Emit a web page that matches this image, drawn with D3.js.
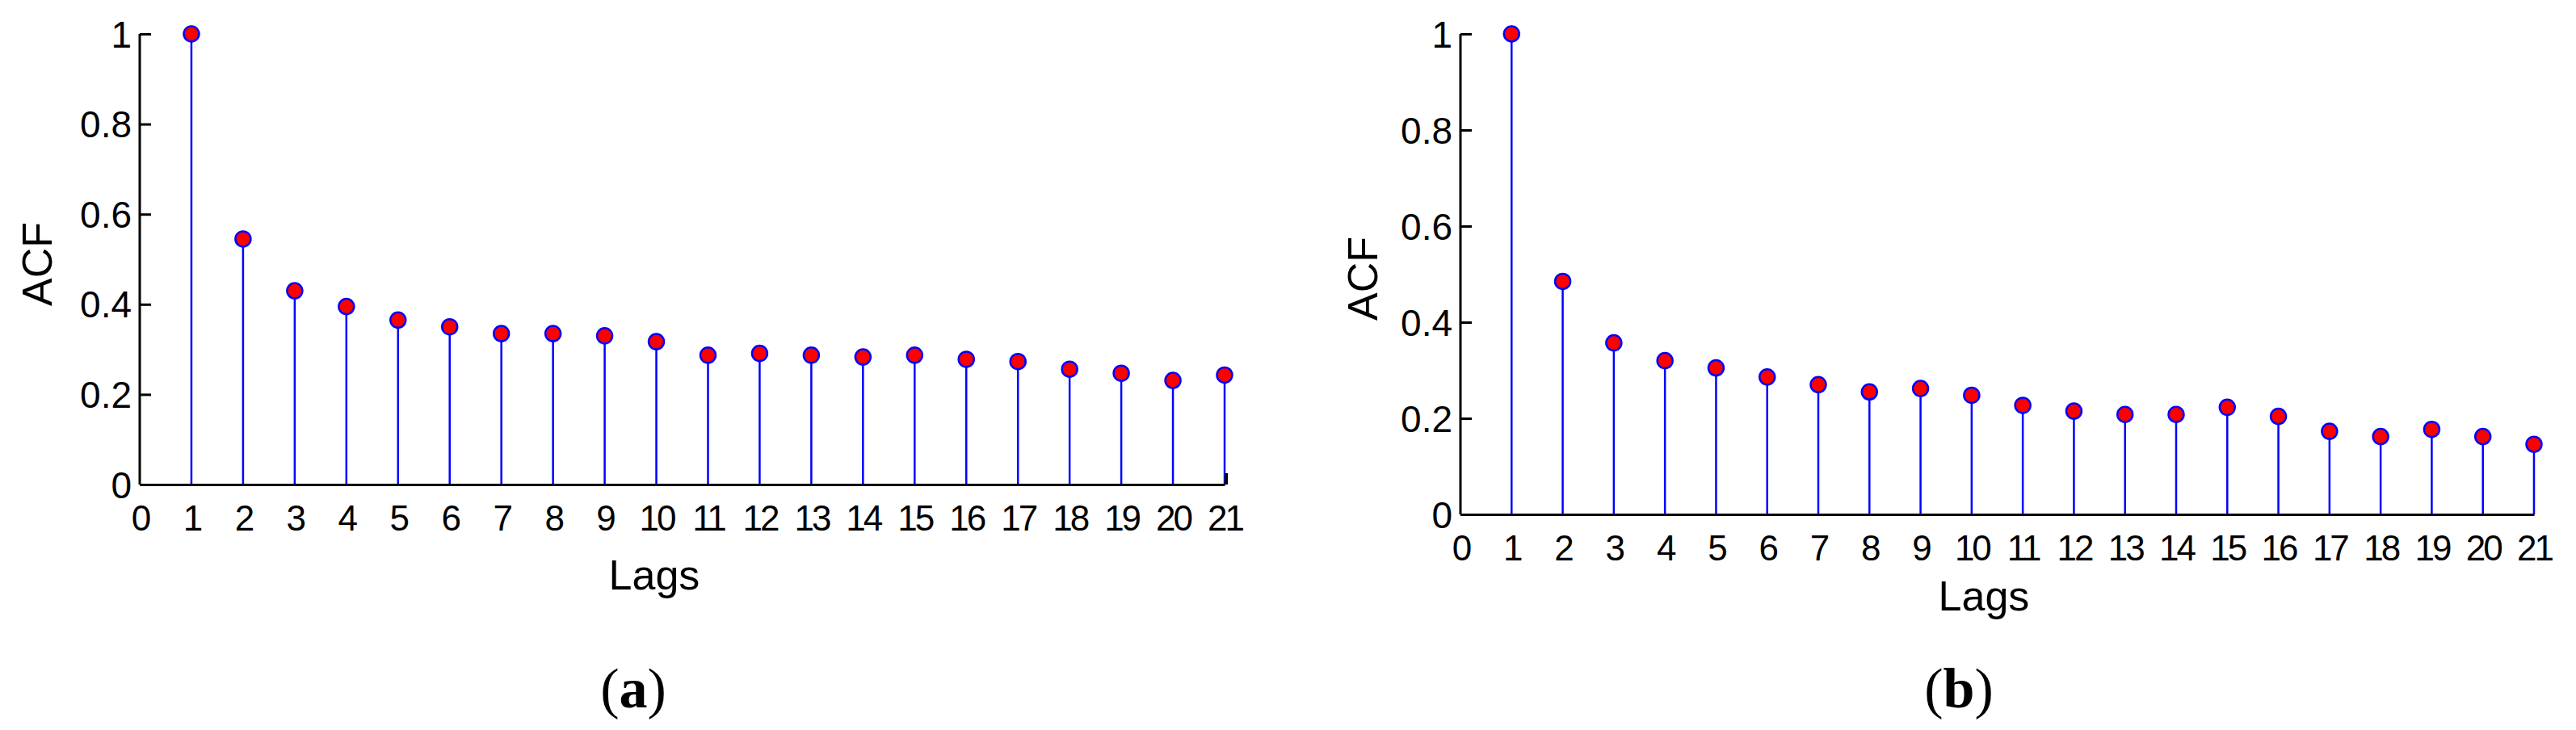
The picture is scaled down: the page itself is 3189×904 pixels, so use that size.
<!DOCTYPE html>
<html><head><meta charset="utf-8">
<script src="https://cdnjs.cloudflare.com/ajax/libs/d3/7.8.5/d3.min.js"></script>
<style>body{margin:0;background:#fff}</style>
</head><body>
<script>
// lags and acf values
var lags = d3.range(1, 22);
var acfA = [1, 0.545, 0.43, 0.395, 0.365, 0.35, 0.335, 0.335, 0.33, 0.317, 0.287, 0.291, 0.287, 0.283, 0.287, 0.278, 0.273, 0.256, 0.247, 0.231, 0.243];
var acfB = [1, 0.485, 0.357, 0.32, 0.305, 0.286, 0.27, 0.255, 0.262, 0.248, 0.227, 0.215, 0.208, 0.208, 0.223, 0.204, 0.173, 0.162, 0.177, 0.162, 0.146];
var yTicks = [0, 0.2, 0.4, 0.6, 0.8, 1];
var xTicks = d3.range(0, 22);

var svg = d3.select("body").append("svg").attr("width", 3189).attr("height", 904);

function panel(vals, box, cap){
    var x = d3.scaleLinear().domain([0, 21]).range([box.x0, box.x1]);
    var y = d3.scaleLinear().domain([0, 1]).range([box.y0, box.y1]);
    var g = svg.append("g").attr("font-family", "Liberation Sans, Arial, sans-serif");

    // stems
    g.selectAll("line.stem").data(vals).enter().append("line")
        .attr("x1", function(d, i){ return x(lags[i]); })
        .attr("x2", function(d, i){ return x(lags[i]); })
        .attr("y1", y(0)).attr("y2", function(d){ return y(d); })
        .attr("stroke", "#0000ff").attr("stroke-width", 2.5);
    g.selectAll("circle").data(vals).enter().append("circle")
        .attr("cx", function(d, i){ return x(lags[i]); })
        .attr("cy", function(d){ return y(d); })
        .attr("r", 9.5).attr("fill", "#ff0000").attr("stroke", "#0000ff").attr("stroke-width", 2.5);

    // axes
    var ya = g.append("g").attr("transform", "translate(" + box.x0 + ",0)")
        .call(d3.axisRight(y).tickValues(yTicks).tickSize(14).tickFormat(d3.format("~g")));
    ya.select(".domain").attr("d", "M0," + y(0) + "V" + y(1)).attr("stroke-width", 3);
    ya.selectAll(".tick line").attr("stroke-width", 3);
    ya.selectAll(".tick text").attr("x", -10).attr("text-anchor", "end").attr("font-size", 46).attr("dy", "0.35em");

    var xa = g.append("g").attr("transform", "translate(0," + box.y0 + ")")
        .call(d3.axisBottom(x).tickValues(xTicks).tickSize(0).tickPadding(26));
    xa.select(".domain").attr("stroke-width", 3);
    xa.selectAll(".tick text").attr("font-size", 44).attr("letter-spacing", -3);
    if (box.endTick) {
        g.append("line").attr("x1", x(21) + 2).attr("x2", x(21) + 2)
            .attr("y1", y(0)).attr("y2", y(0) - 14).attr("stroke", "#000").attr("stroke-width", 4);
    }

    g.append("text").attr("x", box.lx).attr("y", box.ly).attr("text-anchor", "middle")
        .attr("font-size", 52).text("Lags");
    g.append("text").attr("transform", "translate(" + box.ax + "," + box.ay + ") rotate(-90)")
        .attr("text-anchor", "middle").attr("dy", "0.35em").attr("font-size", 52).text("ACF");
    var c = svg.append("text").attr("x", box.cx).attr("y", 876).attr("text-anchor", "middle")
        .attr("font-family", "Liberation Serif, Times New Roman, serif").attr("font-size", 70);
    c.append("tspan").text("(");
    c.append("tspan").attr("font-weight", "bold").text(cap);
    c.append("tspan").text(")");
}

panel(acfA, {x0: 173, x1: 1516, y0: 600, y1: 42, lx: 810, ly: 730, ax: 46, ay: 327, cx: 784, endTick: true}, "a");
panel(acfB, {x0: 1808, x1: 3137, y0: 637, y1: 42, lx: 2456, ly: 756, ax: 1687, ay: 345, cx: 2425, endTick: false}, "b");
</script>
</body></html>
